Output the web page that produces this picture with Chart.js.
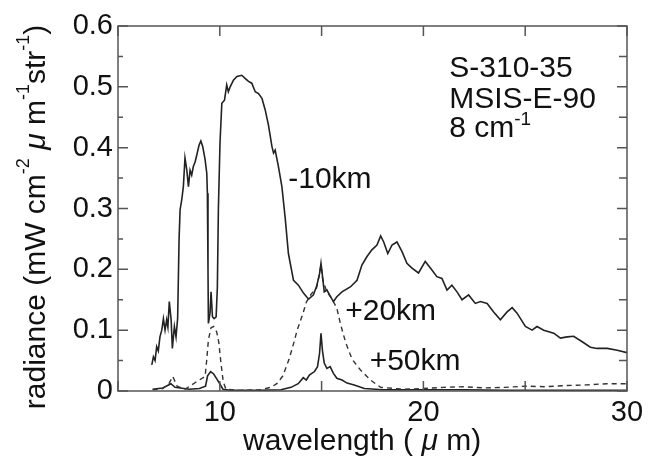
<!DOCTYPE html>
<html>
<head>
<meta charset="utf-8">
<title>radiance spectra</title>
<script src="https://cdn.jsdelivr.net/npm/chart.js@4.4.0/dist/chart.umd.min.js"></script>
<style>
  html, body { margin: 0; padding: 0; background: #fff; }
  canvas { display: block; }
</style>
</head>
<body>
<canvas id="spectrum" width="656" height="465"></canvas>
<script>
// -10 km spectrum (wavelength in um, radiance in mW cm-2 um-1 str-1)
const wl10 = [6.66, 6.74, 6.82, 6.90, 6.98, 7.06, 7.15, 7.23, 7.31, 7.39, 7.45, 7.52, 7.61, 7.67, 7.77, 7.85, 7.93, 8.00,
  8.05, 8.13, 8.21, 8.29, 8.38, 8.46, 8.54, 8.62, 8.70, 8.79, 8.87, 8.98, 9.07, 9.16, 9.28, 9.36, 9.39, 9.42,
  9.44, 9.52, 9.57, 9.64, 9.72, 9.82, 9.88, 9.93, 10.01, 10.10, 10.23, 10.34, 10.42, 10.51, 10.67, 10.84, 11.08,
  11.24, 11.41, 11.57, 11.74, 11.90, 12.07, 12.23, 12.39, 12.56, 12.64, 12.72, 12.88, 13.05, 13.21, 13.37, 13.46,
  13.62, 13.86, 14.11, 14.36, 14.60, 14.77, 14.90, 14.97, 15.03, 15.13, 15.26, 15.39, 15.58, 15.75, 16.00, 16.41,
  16.74, 16.98, 17.23, 17.47, 17.72, 17.90, 18.05, 18.25, 18.46, 18.70, 18.95, 19.19, 19.44, 19.76, 20.09, 20.42,
  20.66, 20.91, 21.16, 21.40, 21.65, 21.90, 22.22, 22.55, 22.80, 23.13, 23.45, 23.78, 24.11, 24.36, 24.60, 25.01,
  25.34, 25.58, 25.91, 26.40, 26.73, 27.06, 27.38, 27.80, 28.20, 28.53, 29.03, 29.52, 30.00];
const rad10 = [0.043, 0.056, 0.050, 0.073, 0.066, 0.089, 0.100, 0.119, 0.100, 0.117, 0.105, 0.147, 0.117, 0.070, 0.106, 0.089, 0.120, 0.250,
  0.298, 0.314, 0.336, 0.383, 0.363, 0.336, 0.363, 0.355, 0.369, 0.377, 0.388, 0.404, 0.411, 0.402, 0.380, 0.358, 0.325, 0.200,
  0.111, 0.128, 0.163, 0.122, 0.119, 0.122, 0.170, 0.298, 0.408, 0.473, 0.478, 0.503, 0.492, 0.500, 0.511, 0.517, 0.519,
  0.514, 0.509, 0.506, 0.492, 0.489, 0.481, 0.462, 0.437, 0.402, 0.391, 0.396, 0.369, 0.336, 0.285, 0.226, 0.210,
  0.182, 0.174, 0.161, 0.151, 0.158, 0.174, 0.193, 0.210, 0.193, 0.163, 0.166, 0.158, 0.147, 0.155, 0.163, 0.171,
  0.182, 0.207, 0.221, 0.232, 0.240, 0.255, 0.245, 0.226, 0.240, 0.245, 0.229, 0.210, 0.202, 0.194, 0.213, 0.199,
  0.188, 0.185, 0.166, 0.174, 0.163, 0.150, 0.158, 0.144, 0.147, 0.144, 0.130, 0.117, 0.130, 0.137, 0.128, 0.106,
  0.100, 0.106, 0.100, 0.095, 0.087, 0.089, 0.090, 0.081, 0.072, 0.070, 0.070, 0.067, 0.063];

// +20 km spectrum (dashed)
const wl20 = [6.7, 7.2, 7.5, 7.69, 7.9, 8.3, 8.8, 9.28, 9.36, 9.44, 9.57, 9.7, 9.85, 9.95, 10.06, 10.17, 10.3, 11, 12,
  12.5, 12.8, 13.1, 13.4, 13.6, 13.8, 14.08, 14.25, 14.5, 14.75, 14.9, 14.97, 15.06, 15.26, 15.5, 15.75, 15.92,
  16.18, 16.5, 16.9, 17.4, 17.9, 19, 20, 21, 22, 23, 24, 25, 26, 27, 28, 29, 30];
const rad20 = [0.002, 0.004, 0.012, 0.024, 0.008, 0.003, 0.014, 0.024, 0.052, 0.084, 0.104, 0.106, 0.097, 0.080, 0.045, 0.015, 0.003, 0.001, 0.002,
  0.006, 0.012, 0.025, 0.052, 0.075, 0.100, 0.127, 0.146, 0.160, 0.169, 0.193, 0.207, 0.182, 0.163, 0.152, 0.136, 0.111,
  0.080, 0.052, 0.035, 0.018, 0.006, 0.003, 0.004, 0.006, 0.007, 0.005, 0.006, 0.008, 0.007, 0.009, 0.010, 0.012, 0.012];

// +50 km spectrum
const wl50 = [6.7, 7.2, 7.6, 7.8, 8.5, 9.0, 9.3, 9.4, 9.55, 9.7, 9.85, 10.0, 10.15, 10.5, 12, 13, 13.5, 13.85, 14.1,
  14.25, 14.4, 14.65, 14.8, 14.9, 14.97, 15.04, 15.13, 15.26, 15.42, 15.58, 15.75, 16.0, 16.25, 16.6, 17.1, 18,
  20, 22, 24, 26, 28, 30];
const rad50 = [0.003, 0.005, 0.012, 0.006, 0.003, 0.004, 0.008, 0.025, 0.032, 0.028, 0.020, 0.012, 0.003, 0.001, 0.001, 0.002, 0.006, 0.012, 0.022,
  0.018, 0.026, 0.032, 0.040, 0.062, 0.095, 0.067, 0.046, 0.037, 0.040, 0.029, 0.021, 0.018, 0.013, 0.010, 0.004, 0.002,
  0.002, 0.002, 0.001, 0.001, 0.001, 0.001];

// curve labels: [text, wavelength, radiance at baseline]
const curveLabels = [
  ['-10km', 13.36, 0.334],
  ['+20km', 16.16, 0.116],
  ['+50km', 17.36, 0.035]
];
// run info block, one line per entry
const infoLines = ['S-310-35', 'MSIS-E-90', '8 cm'];
const infoX = 21.27;
const infoY = [0.516, 0.466, 0.417];

const FONT = '"Liberation Sans", Arial, sans-serif';
const INK = '#111';

function toPoints(xs, ys) {
  return xs.map((x, i) => ({ x: x, y: ys[i] }));
}

// text pieces drawn one after another; style: 0 normal, 1 superscript, 2 italic
function drawRuns(ctx, runs, x, y, size, supSize, raise) {
  runs.forEach(([t, style]) => {
    ctx.font = (style === 2 ? 'italic ' : '') + (style === 1 ? supSize : size) + 'px ' + FONT;
    ctx.fillText(t, x, style === 1 ? y - raise : y);
    x += ctx.measureText(t).width;
  });
}
function runsWidth(ctx, runs, size, supSize) {
  let w = 0;
  runs.forEach(([t, style]) => {
    ctx.font = (style === 2 ? 'italic ' : '') + (style === 1 ? supSize : size) + 'px ' + FONT;
    w += ctx.measureText(t).width;
  });
  return w;
}

const framePlugin = {
  id: 'frame',
  afterDraw(chart) {
    const ctx = chart.ctx;
    const a = chart.chartArea;
    const xs = chart.scales.x;
    const ys = chart.scales.y;
    ctx.save();

    // box around the plot
    ctx.strokeStyle = '#555';
    ctx.lineWidth = 1.5;
    ctx.strokeRect(a.left, a.top, a.right - a.left, a.bottom - a.top);

    // inward ticks
    ctx.beginPath();
    xs.ticks.forEach(t => {
      const px = xs.getPixelForValue(t.value);
      ctx.moveTo(px, a.bottom); ctx.lineTo(px, a.bottom - 10);
      ctx.moveTo(px, a.top); ctx.lineTo(px, a.top + 10);
    });
    ys.ticks.forEach(t => {
      const py = ys.getPixelForValue(t.value);
      const major = Math.round(t.value * 100) % 10 === 0;
      ctx.moveTo(a.left, py); ctx.lineTo(a.left + (major ? 10 : 5), py);
      ctx.moveTo(a.right, py); ctx.lineTo(a.right - (major ? 10 : 8), py);
    });
    ctx.stroke();

    ctx.fillStyle = INK;
    ctx.textAlign = 'left';
    ctx.textBaseline = 'alphabetic';

    // curve labels
    ctx.font = '30px ' + FONT;
    curveLabels.forEach(([t, wl, r]) => {
      ctx.fillText(t, xs.getPixelForValue(wl), ys.getPixelForValue(r));
    });

    // info block
    const ix = xs.getPixelForValue(infoX);
    ctx.fillText(infoLines[0], ix, ys.getPixelForValue(infoY[0]));
    ctx.fillText(infoLines[1], ix, ys.getPixelForValue(infoY[1]));
    drawRuns(ctx, [[infoLines[2], 0], ['-1', 1]], ix, ys.getPixelForValue(infoY[2]), 30, 19, 12);

    // x axis title
    drawRuns(ctx, [['wavelength ( ', 0], ['\u03bc', 2], [' m)', 0]], 243, 450, 30, 30, 0);

    // y axis title, rotated
    const yRuns = [['radiance (mW cm', 0], ['-2', 1], [' ', 0], ['\u03bc', 2], [' m', 0], ['-1', 1],
      ['str', 0], ['-1', 1], [')', 0]];
    const w = runsWidth(ctx, yRuns, 30, 18);
    ctx.translate(45, 217);
    ctx.rotate(-Math.PI / 2);
    drawRuns(ctx, yRuns, -w / 2, 0, 30, 18, 16);

    ctx.restore();
  }
};

new Chart(document.getElementById('spectrum'), {
  type: 'line',
  data: {
    datasets: [
      {
        label: '-10km',
        data: toPoints(wl10, rad10),
        borderColor: '#222',
        borderWidth: 1.6,
        pointRadius: 0,
        tension: 0,
        fill: false
      },
      {
        label: '+20km',
        data: toPoints(wl20, rad20),
        borderColor: '#333',
        borderWidth: 1.4,
        borderDash: [5, 4],
        pointRadius: 0,
        tension: 0,
        fill: false
      },
      {
        label: '+50km',
        data: toPoints(wl50, rad50),
        borderColor: '#222',
        borderWidth: 1.6,
        pointRadius: 0,
        tension: 0,
        fill: false
      }
    ]
  },
  options: {
    responsive: false,
    animation: false,
    layout: { padding: { left: 0, top: 26, right: 29, bottom: 0 } },
    plugins: {
      legend: { display: false },
      tooltip: { enabled: false }
    },
    scales: {
      x: {
        type: 'linear',
        min: 5,
        max: 30,
        grid: { display: false, drawTicks: false },
        border: { display: false },
        ticks: {
          stepSize: 5,
          padding: 5,
          color: INK,
          font: { family: FONT, size: 29 },
          maxRotation: 0,
          autoSkip: false,
          callback: v => (v % 10 === 0 ? String(v) : '')
        },
        afterFit: s => { s.height = 74; }
      },
      y: {
        min: 0,
        max: 0.6,
        grid: { display: false, drawTicks: false },
        border: { display: false },
        ticks: {
          stepSize: 0.05,
          padding: 5,
          color: INK,
          font: { family: FONT, size: 29 },
          autoSkip: false,
          callback: v => {
            const k = Math.round(v * 100);
            if (k % 10 !== 0) return '';
            return k === 0 ? '0' : (k / 100).toFixed(1);
          }
        },
        afterFit: s => { s.width = 118; }
      }
    }
  },
  plugins: [framePlugin]
});
</script>
</body>
</html>
